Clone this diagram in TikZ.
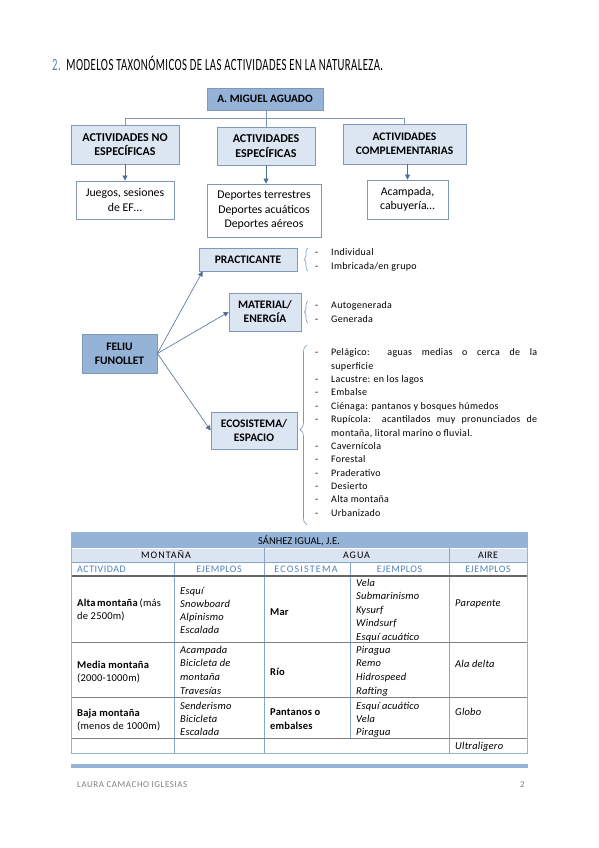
\documentclass[tikz,border=0pt]{standalone}
\usepackage{fontspec}
\setmainfont{Carlito}
\usetikzlibrary{arrows.meta,decorations.pathreplacing,calc}
\definecolor{dk}{HTML}{95B3D7}
\definecolor{lt}{HTML}{DCE6F2}
\definecolor{bd}{HTML}{7F98B8}
\definecolor{ar}{HTML}{4F6E96}
\definecolor{tb}{HTML}{4F81BD}
\definecolor{gr}{HTML}{7F7F7F}
\definecolor{hl}{HTML}{DBE5F1}
\begin{document}
\begin{tikzpicture}[x=1pt,y=-1pt,
  box/.style={draw=bd, line width=0.8pt, inner sep=0pt, align=center, font=\fontsize{11.5}{14}\selectfont\bfseries},
  dbox/.style={box, fill=dk},
  lbox/.style={box, fill=lt},
  wbox/.style={box, fill=white, font=\fontsize{11.8}{14.5}\selectfont},
  arr/.style={draw=ar, line width=0.6pt, -{Triangle[length=5pt,width=5pt]}},
  ln/.style={draw=bd, line width=0.8pt},
  br/.style={draw=bd, line width=0.6pt, decorate, decoration={brace, amplitude=4pt}},
  li/.style={anchor=base west, inner sep=0pt, font=\fontsize{10}{12}\selectfont\addfontfeature{LetterSpace=3}},
  tc/.style={anchor=base west, inner sep=0pt, font=\fontsize{10.5}{12}\selectfont\addfontfeature{LetterSpace=2}},
  tce/.style={anchor=base, inner sep=0pt, font=\fontsize{10}{12}\selectfont\addfontfeature{LetterSpace=10}},
  tch/.style={anchor=base, inner sep=0pt, text=tb, font=\fontsize{10}{12}\selectfont\addfontfeature{LetterSpace=5}},
  vl/.style={draw=tb!70, line width=0.6pt},
  hln/.style={draw=gr, line width=0.6pt}
]
\useasboundingbox (0,0) rectangle (599,848);

% title
\node[anchor=base west, inner sep=0pt] (title) at (52,71) {\scalebox{1}[1.6]{\resizebox{331pt}{!}{\fontsize{10}{12}\selectfont\addfontfeature{LetterSpace=4}\textcolor{tb}{2.}\ \ MODELOS TAXONÓMICOS DE LAS ACTIVIDADES EN LA NATURALEZA.}}};

% top tree
\node[dbox, minimum width=116, minimum height=22, font=\fontsize{11.3}{13}\selectfont\bfseries] (miguel) at (265,99) {A. MIGUEL AGUADO};
\node[lbox, minimum width=108, minimum height=39, font=\fontsize{12}{14.5}\selectfont\bfseries] (b1) at (125,144.5) {ACTIVIDADES NO\\ESPECÍFICAS};
\node[lbox, minimum width=98, minimum height=38, font=\fontsize{12}{14.5}\selectfont\bfseries] (b2) at (266,146) {ACTIVIDADES\\ESPECÍFICAS};
\node[lbox, minimum width=123, minimum height=40] (b3) at (404.5,144) {ACTIVIDADES\\COMPLEMENTARIAS};
\node[wbox, minimum width=98, minimum height=38] (c1) at (125,200) {Juegos, sesiones\\de EF…};
\node[wbox, minimum width=114, minimum height=53] (c2) at (264,210.5) {Deportes terrestres\\Deportes acuáticos\\Deportes aéreos};
\node[wbox, minimum width=81, minimum height=39] (c3) at (407.5,199.5) {Acampada,\\cabuyería…};
\coordinate (hub) at (266,118);
\draw[ln] (miguel.south -| hub) -- (hub);
\draw[ln] (hub) -| (b1.north);
\draw[ln] (hub) -| (b3.north);
\draw[ln] (hub) -- (b2.north -| hub);
\draw[arr] (b1.south) -- (c1.north);
\draw[arr] (b2.south) -- (c2.north -| b2.south);
\draw[arr] (b3.south -| c3.north) -- (c3.north);

% Feliu Funollet
\node[dbox, minimum width=75, minimum height=39] (feliu) at (119.5,353.5) {FELIU\\FUNOLLET};
\node[lbox, minimum width=98, minimum height=23] (prac) at (248,259.5) {PRACTICANTE};
\node[lbox, minimum width=72, minimum height=38] (mat) at (265,312) {MATERIAL/\\ENERGÍA};
\node[lbox, minimum width=86, minimum height=37] (eco) at (254,430.5) {ECOSISTEMA/\\ESPACIO};
\draw[arr] (feliu.east) -- ($(prac.south west)+(4,0)$);
\draw[arr] (feliu.east) -- (mat.west);
\draw[arr] (feliu.east) -- (eco.west);

% braces
\coordinate (pb1) at (308,271); \coordinate (pb2) at (308,248);
\coordinate (mb1) at (308,323); \coordinate (mb2) at (308,301);
\coordinate (eb1) at (307,525); \coordinate (eb2) at (307,345);
\draw[br] (pb1) -- (pb2);
\draw[br] (mb1) -- (mb2);
\draw[br, decoration={brace, amplitude=7pt, aspect=0.53}] (eb1) -- (eb2);

% lists
\node[li] (pd1) at (315,255) {-}; \node[li] (pt1) at (331,255) {Individual};
\node[li] (pd2) at (315,269) {-}; \node[li] (pt2) at (331,269) {Imbricada/en grupo};
\node[li] (md1) at (315,308) {-}; \node[li] (mt1) at (331,308) {Autogenerada};
\node[li] (md2) at (315,322) {-}; \node[li] (mt2) at (331,322) {Generada};

\node[li] (ed1) at (315,355) {-}; \node[li] (et1) at (331,355) {\makebox[206pt][s]{Pelágico: aguas medias o cerca de la}};
\node[li] (et2) at (331,369) {superficie};
\node[li] (ed3) at (315,382) {-}; \node[li] (et3) at (331,382) {Lacustre: en los lagos};
\node[li] (ed4) at (315,395.5) {-}; \node[li] (et4) at (331,395.5) {Embalse};
\node[li] (ed5) at (315,409) {-}; \node[li] (et5) at (331,409) {Ciénaga: pantanos y bosques húmedos};
\node[li] (ed6) at (315,422.5) {-}; \node[li] (et6) at (331,422.5) {\makebox[206pt][s]{Rupícola: acantilados muy pronunciados de}};
\node[li] (et7) at (331,436) {montaña, litoral marino o fluvial.};
\node[li] (ed8) at (315,449) {-}; \node[li] (et8) at (331,449) {Cavernícola};
\node[li] (ed9) at (315,462.5) {-}; \node[li] (et9) at (331,462.5) {Forestal};
\node[li] (ed10) at (315,476) {-}; \node[li] (et10) at (331,476) {Praderativo};
\node[li] (ed11) at (315,489) {-}; \node[li] (et11) at (331,489) {Desierto};
\node[li] (ed12) at (315,502.5) {-}; \node[li] (et12) at (331,502.5) {Alta montaña};
\node[li] (ed13) at (315,516) {-}; \node[li] (et13) at (331,516) {Urbanizado};

% table
\fill[dk] (71,532) rectangle (527,548);
\fill[hl] (71,548) rectangle (527,562);
\draw[white, line width=0.8pt] (71,548) -- (527,548);
\draw[vl] (71,562) -- (527,562);
\draw[vl] (264,548) -- (264,753);
\draw[vl] (449,548) -- (449,753);
\draw[vl] (174,562) -- (174,753);
\draw[vl] (350,562) -- (350,738);
\draw[draw=gr!80!black, line width=1.2pt] (71,576) -- (527,576);
\draw[hln] (71,642) -- (527,642);
\draw[hln] (71,697) -- (527,697);
\draw[hln] (71,738) -- (527,738);
\draw[vl] (71,753) -- (527,753);
\draw[draw=dk, line width=0.8pt] (71,532) rectangle (527,753);

\node[anchor=base, inner sep=0pt, font=\fontsize{10.5}{12}\selectfont] (th) at (299,544) {SÁNHEZ IGUAL, J.E.};
\node[tce] (tm) at (166,558.5) {MONTAÑA};
\node[tce] (ta) at (356.5,558.5) {AGUA};
\node[tce, font=\fontsize{10}{12}\selectfont\addfontfeature{LetterSpace=4}] (tai) at (488,558.5) {AIRE};
\node[tch, anchor=base west] (h1) at (77,572.5) {ACTIVIDAD};
\node[tch] (h2) at (219,572.5) {EJEMPLOS};
\node[tch, font=\fontsize{10}{12}\selectfont\addfontfeature{LetterSpace=12}] (h3) at (306,572.5) {ECOSISTEMA};
\node[tch] (h4) at (399.5,572.5) {EJEMPLOS};
\node[tch] (h5) at (488,572.5) {EJEMPLOS};

% row alta
\node[tc] (a1) at (77,606) {\makebox[81pt][s]{\textbf{Alta montaña} (más}};
\node[tc] (a2) at (77,619) {de 2500m)};
\node[tc] (ae1) at (180,594) {\itshape Esquí};
\node[tc] (ae2) at (180,607) {\itshape Snowboard};
\node[tc] (ae3) at (180,620) {\itshape Alpinismo};
\node[tc] (ae4) at (180,633) {\itshape Escalada};
\node[tc] (am) at (270,615) {\bfseries Mar};
\node[tc] (aw1) at (356,586) {\itshape Vela};
\node[tc] (aw2) at (356,599.5) {\itshape Submarinismo};
\node[tc] (aw3) at (356,613) {\itshape Kysurf};
\node[tc] (aw4) at (356,626.5) {\itshape Windsurf};
\node[tc] (aw5) at (356,640) {\itshape Esquí acuático};
\node[tc] (aa) at (455,606) {\itshape Parapente};

% row media
\node[tc] (m1) at (77,668) {\bfseries Media montaña};
\node[tc] (m2) at (77,681) {(2000-1000m)};
\node[tc] (me1) at (180,653) {\itshape Acampada};
\node[tc] (me2) at (180,666) {\itshape Bicicleta de};
\node[tc] (me3) at (180,680) {\itshape montaña};
\node[tc] (me4) at (180,694) {\itshape Travesías};
\node[tc] (mr) at (270,675) {\bfseries Río};
\node[tc] (mw1) at (356,653) {\itshape Piragua};
\node[tc] (mw2) at (356,666) {\itshape Remo};
\node[tc] (mw3) at (356,680) {\itshape Hidrospeed};
\node[tc] (mw4) at (356,694) {\itshape Rafting};
\node[tc] (ma) at (455,667) {\itshape Ala delta};

% row baja
\node[tc] (bj1) at (77,716) {\bfseries Baja montaña};
\node[tc] (bj2) at (77,729) {(menos de 1000m)};
\node[tc] (be1) at (180,709) {\itshape Senderismo};
\node[tc] (be2) at (180,722) {\itshape Bicicleta};
\node[tc] (be3) at (180,735) {\itshape Escalada};
\node[tc] (bp1) at (270,715) {\bfseries Pantanos o};
\node[tc] (bp2) at (270,729) {\bfseries embalses};
\node[tc] (bw1) at (356,709) {\itshape Esquí acuático};
\node[tc] (bw2) at (356,722) {\itshape Vela};
\node[tc] (bw3) at (356,735) {\itshape Piragua};
\node[tc] (ba) at (455,715) {\itshape Globo};
\node[tc] (ua) at (455,749) {\itshape Ultraligero};

% footer
\fill[dk] (71,764) rectangle (528,768);
\node[anchor=base west, inner sep=0pt, text=gr, font=\fontsize{9}{10}\selectfont\addfontfeature{LetterSpace=6}] (foot) at (77,787) {LAURA CAMACHO IGLESIAS};
\node[anchor=base west, inner sep=0pt, text=gr, font=\fontsize{9}{10}\selectfont] (pg) at (520,787) {2};
\end{tikzpicture}
\end{document}
